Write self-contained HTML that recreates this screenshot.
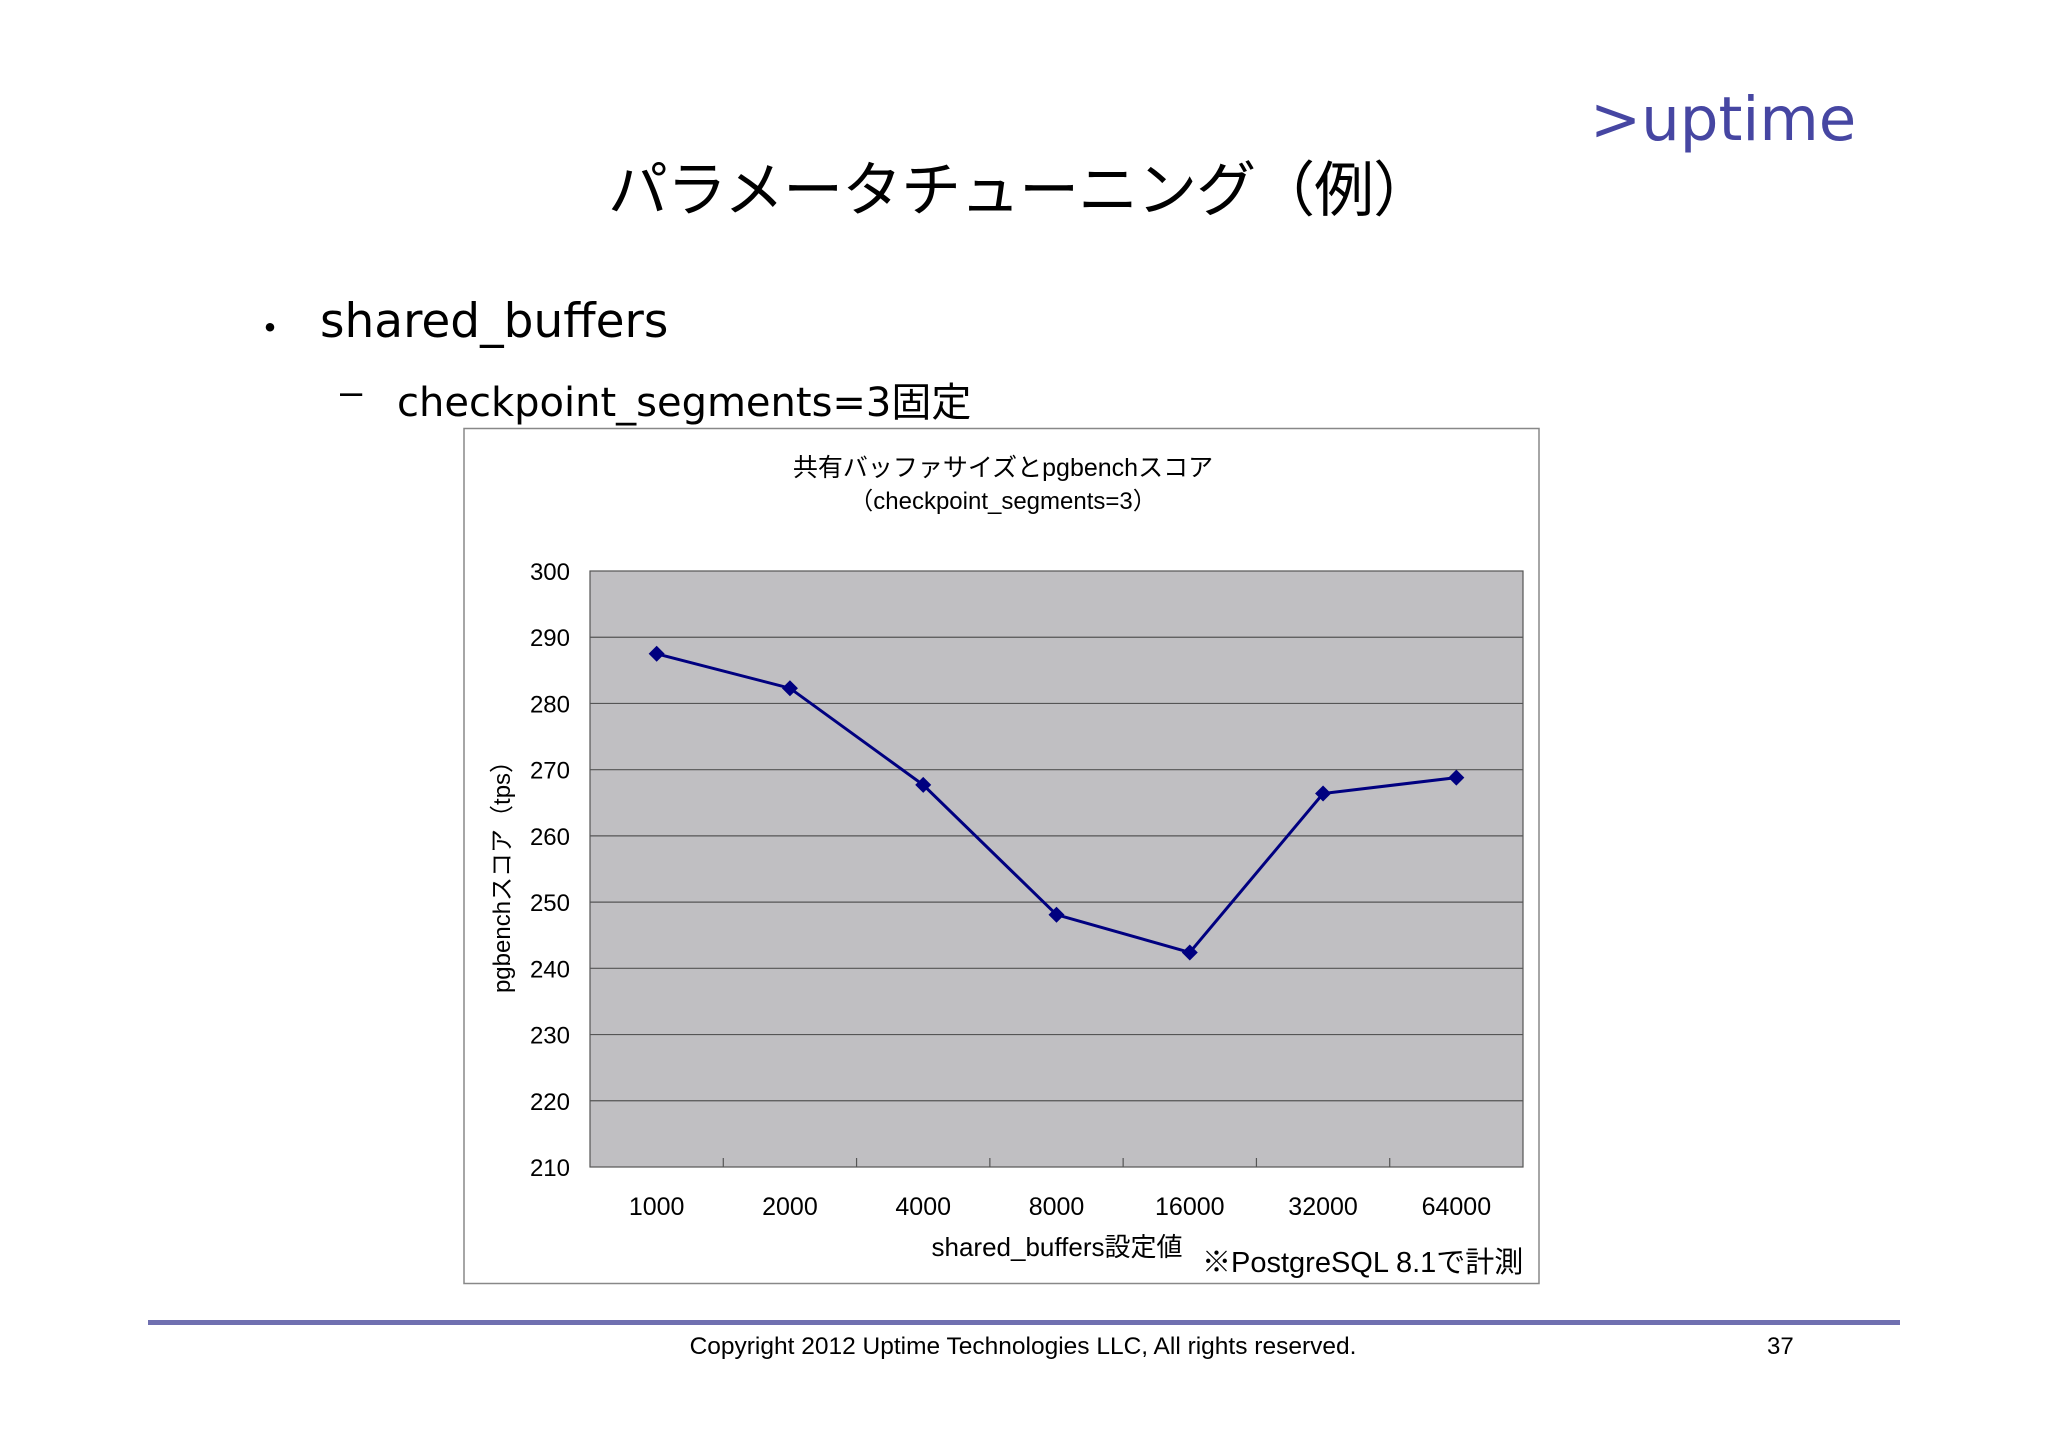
<!DOCTYPE html>
<html><head><meta charset="utf-8">
<style>
body{margin:0;background:#fff;}
#slide{position:relative;width:2048px;height:1448px;overflow:hidden;background:#fff;font-family:"Liberation Sans","Noto Sans CJK JP",sans-serif;}
.t{position:absolute;white-space:nowrap;color:#000;}
</style></head>
<body>
<div id="slide">
<div class="t" style="left:1590px;top:84px;font-family:'DejaVu Sans',sans-serif;font-size:61px;color:#4646a2;">&gt;uptime</div>
<div class="t" style="left:0;width:2040px;text-align:center;top:150px;font-size:60px;letter-spacing:-1px;font-family:'Noto Sans CJK JP',sans-serif;line-height:72px;">パラメータチューニング（例）</div>
<div class="t" style="left:250px;top:296px;font-size:40px;">・</div>
<div class="t" style="left:320px;top:294px;font-size:47px;font-family:'DejaVu Sans','Noto Sans CJK JP',sans-serif;">shared_buffers</div>
<div class="t" style="left:340px;top:370px;font-size:40px;">–</div>
<div class="t" style="left:397px;top:370px;font-size:40px;font-family:'DejaVu Sans','Noto Sans CJK JP',sans-serif;">checkpoint_segments=3固定</div>

<svg id="chart" style="position:absolute;left:0;top:0" width="2048" height="1448" font-family="'Liberation Sans','Noto Sans CJK JP',sans-serif">
<rect x="464" y="428.5" width="1075" height="855" fill="#fff" stroke="#888" stroke-width="1.5"/>
<text x="1003" y="476" font-size="25" text-anchor="middle">共有バッファサイズとpgbenchスコア</text>
<text x="1003" y="509" font-size="24" text-anchor="middle">（checkpoint_segments=3）</text>
<rect x="590" y="571" width="933" height="596" fill="#c0bfc2" stroke="#555" stroke-width="1.2"/>
<g id="grid"></g><g id="yticks"></g><g id="xticks"></g><g id="series"></g>
<text transform="translate(510,871) rotate(-90)" font-size="24" text-anchor="middle">pgbenchスコア（tps）</text>
<text x="1057" y="1256" font-size="26" text-anchor="middle">shared_buffers設定値</text>
<text x="1202" y="1272" font-size="29">※PostgreSQL 8.1で計測</text>
</svg>

<div style="position:absolute;left:148px;top:1320px;width:1752px;height:5px;background:#7070b0;"></div>
<div class="t" style="left:0;width:2046px;text-align:center;top:1333px;font-size:24.5px;">Copyright 2012 Uptime Technologies LLC, All rights reserved.</div>
<div class="t" style="left:1767px;top:1333px;font-size:24px;">37</div>
</div>
<script>
const categories=["1000","2000","4000","8000","16000","32000","64000"];
const values=[287.5,282.3,267.7,248.1,242.4,266.4,268.8];
const yTicks=[210,220,230,240,250,260,270,280,290,300];
const NS="http://www.w3.org/2000/svg";
const PL=590,PR=1523,PT=571,PB=1167,YMIN=210,YMAX=300;
function y(v){return PB-(v-YMIN)/(YMAX-YMIN)*(PB-PT);}
const bw=(PR-PL)/categories.length;
function x(i){return PL+bw*(i+0.5);}
function mk(tag,parent,attrs){const e=document.createElementNS(NS,tag);for(const k in attrs)e.setAttribute(k,attrs[k]);parent.appendChild(e);return e;}
const grid=document.getElementById('grid'),yt=document.getElementById('yticks'),xt=document.getElementById('xticks'),ser=document.getElementById('series');
yTicks.forEach(v=>{
  if(v>YMIN&&v<YMAX){const l=mk('line',grid,{x1:PL,x2:PR,y1:y(v),y2:y(v),stroke:'#555','stroke-width':1.2});
  
  }
  const t=mk('text',yt,{x:570,y:y(v)+9,'font-size':24,'text-anchor':'end'});t.textContent=v;
  
  
});
categories.forEach((c,i)=>{
  if(i>0){const tk=mk('line',xt,{x1:PL+bw*i,x2:PL+bw*i,y1:PB,y2:PB-9,stroke:'#555','stroke-width':1.2});
  
  }
  const t=mk('text',xt,{x:x(i),y:1215,'font-size':25,'text-anchor':'middle'});t.textContent=c;
  
  
});
const pl=mk('polyline',ser,{points:values.map((v,i)=>x(i)+','+y(v)).join(' '),fill:'none',stroke:'#000080','stroke-width':3});


values.forEach((v,i)=>{
  const cx=x(i),cy=y(v),r=8;
  const d=mk('polygon',ser,{points:`${cx},${cy-r} ${cx+r},${cy} ${cx},${cy+r} ${cx-r},${cy}`,fill:'#000080'});
  
  
});
</script>
</body></html>
